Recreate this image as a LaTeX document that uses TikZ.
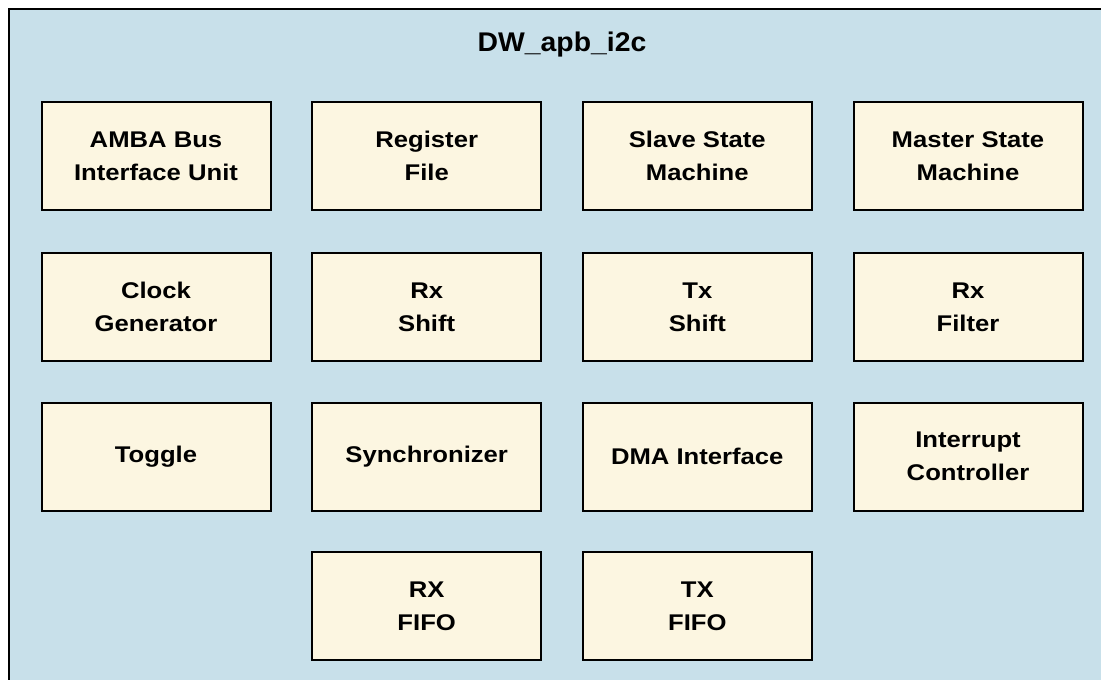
\documentclass[tikz,border=0pt]{standalone}
\usepackage{fontspec}
\newfontfamily\boxfont{Liberation Sans}[FakeStretch=1.13]
\newfontfamily\titlefont{Liberation Sans}[FakeStretch=1.05]
\definecolor{bgblue}{RGB}{200,224,234}
\definecolor{cream}{RGB}{252,246,225}
\begin{document}
\begin{tikzpicture}[x=1pt,y=-1pt,
  blk/.style={draw=black, line width=2pt, fill=cream, minimum width=229pt, minimum height=108pt,
    inner sep=0pt, align=center, font=\boxfont\bfseries\fontsize{22.7}{33}\selectfont}]
\useasboundingbox (0,0) rectangle (1101,680);
\clip (0,0) rectangle (1101,680);
\fill[white] (0,0) rectangle (1101,680);
\draw[line width=2.5pt, fill=bgblue] (9,9) rectangle (1120,700);
\node[font=\titlefont\bfseries\fontsize{27}{32}\selectfont, anchor=base] (title) at (562,51.5) {DW\_apb\_i2c};
\node[blk] (amba) at (156,156) {AMBA Bus\\Interface Unit};
\node[blk] (reg) at (426.7,156) {Register\\File};
\node[blk] (slave) at (697.3,156) {Slave State\\Machine};
\node[blk] (master) at (968,156) {Master State\\Machine};
\node[blk] (clk) at (156,307) {Clock\\Generator};
\node[blk] (rxs) at (426.7,307) {Rx\\Shift};
\node[blk] (txs) at (697.3,307) {Tx\\Shift};
\node[blk] (rxf) at (968,307) {Rx\\Filter};
\node[blk] (tog) at (156,456.5) {Toggle};
\node[blk] (sync) at (426.7,456.5) {Synchronizer};
\node[blk] (dma) at (697.3,456.5) {DMA Interface};
\node[blk] (intc) at (968,456.5) {Interrupt\\Controller};
\node[blk] (rxfifo) at (426.7,606) {RX\\FIFO};
\node[blk] (txfifo) at (697.3,606) {TX\\FIFO};
\end{tikzpicture}
\end{document}
